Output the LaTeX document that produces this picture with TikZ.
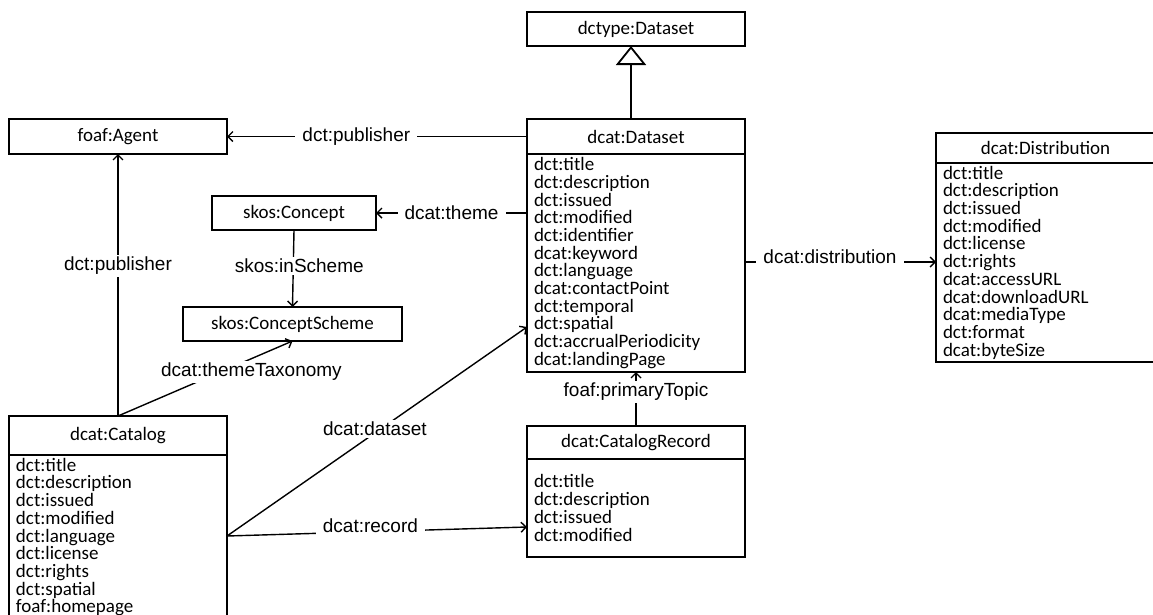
\documentclass[tikz,border=0pt]{standalone}
\usepackage{fontspec}
\setmainfont{Carlito}
\newfontfamily\lblfont{Liberation Sans}
\usetikzlibrary{arrows.meta}

\begin{document}
\begin{tikzpicture}[x=1pt, y=-1pt,
  cls/.style={draw, line width=1.8pt, minimum width=218pt, inner sep=0pt, outer sep=0pt, font=\fontsize{19}{17.7}\selectfont},
  attrs/.style={draw, line width=1.8pt, anchor=north, text width=204pt, inner xsep=7pt, inner ysep=3pt, outer sep=0pt, align=left, font=\fontsize{19}{17.7}\selectfont},
  lbl/.style={fill=white, inner xsep=7pt, inner ysep=2pt, font=\lblfont\fontsize{19}{22}\selectfont},
  arrow/.style={line width=1.4pt, -{Straight Barb[length=5pt, width=10pt]}},
  gen/.style={line width=1.8pt, -{Triangle[open, length=19pt, width=30pt]}}]
\useasboundingbox (0,0) rectangle (1153,614);

% classes
\node[cls, minimum height=34pt, anchor=north west] (dctype) at (527,12) {dctype:Dataset};
\node[cls, minimum height=35pt, anchor=north west] (dsHead) at (527,119) {dcat:Dataset};
\node[attrs, minimum height=218pt] (dsAttrs) at (dsHead.south) {dct:title\\dct:description\\dct:issued\\dct:modified\\dct:identifier\\dcat:keyword\\dct:language\\dcat:contactPoint\\dct:temporal\\dct:spatial\\dct:accrualPeriodicity\\dcat:landingPage};
\node[cls, minimum height=35pt, anchor=north west] (agent) at (9,119) {foaf:Agent};
\node[cls, minimum width=164pt, minimum height=34pt, anchor=north west] (concept) at (212,196) {skos:Concept};
\node[cls, minimum width=219pt, minimum height=34pt, anchor=north west] (scheme) at (183,307) {skos:ConceptScheme};
\node[cls, minimum height=39pt, anchor=north west] (catHead) at (9,416) {dcat:Catalog};
\node[attrs] (catAttrs) at (catHead.south) {dct:title\\dct:description\\dct:issued\\dct:modified\\dct:language\\dct:license\\dct:rights\\dct:spatial\\foaf:homepage};
\node[cls, minimum height=33pt, anchor=north west] (crHead) at (527,426) {dcat:CatalogRecord};
\node[attrs, minimum height=98pt] (crAttrs) at (crHead.south) {dct:title\\dct:description\\dct:issued\\dct:modified};
\node[cls, minimum width=219pt, minimum height=30pt, anchor=north west] (distHead) at (936,133) {dcat:Distribution};
\node[attrs, text width=205pt, minimum height=195pt] (distAttrs) at (distHead.south) {dct:title\\dct:description\\dct:issued\\dct:modified\\dct:license\\dct:rights\\dcat:accessURL\\dcat:downloadURL\\dcat:mediaType\\dct:format\\dcat:byteSize};

\coordinate (catOut) at ([yshift=-81pt]catAttrs.north east);

% relations
\draw[gen] ([xshift=-5pt]dsHead.north) -- ([xshift=-5pt]dctype.south);
\draw[arrow] (dsHead.west) -- node[lbl, pos=0.569] {dct:publisher} (agent.east);
\draw[arrow] (catHead.north) -- node[lbl, pos=0.573] {dct:publisher} (agent.south);
\draw[arrow] ([yshift=-59pt]dsAttrs.north west) -- node[lbl] {dcat:theme} (concept.east);
\draw[arrow] (concept.south) -- node[lbl, pos=0.47, xshift=6pt] {skos:inScheme} (scheme.north);
\draw[arrow] (catHead.north) -- node[lbl, pos=0.587, xshift=31pt] {dcat:themeTaxonomy} (scheme.south);
\draw[arrow] (catOut) -- node[lbl, pos=0.493, yshift=4pt] {dcat:dataset} ([yshift=-173pt]dsAttrs.north west);
\draw[arrow] (catOut) -- node[lbl, pos=0.478, yshift=6pt] {dcat:record} ([yshift=-68pt]crAttrs.north west);
\draw[arrow] (crHead.north) -- node[lbl, pos=0.63] {foaf:primaryTopic} (dsAttrs.south);
\draw[arrow] ([yshift=-108pt]dsAttrs.north east) -- node[lbl, pos=0.445, yshift=5pt] {dcat:distribution} ([yshift=-99pt]distAttrs.north west);
\end{tikzpicture}
\end{document}
